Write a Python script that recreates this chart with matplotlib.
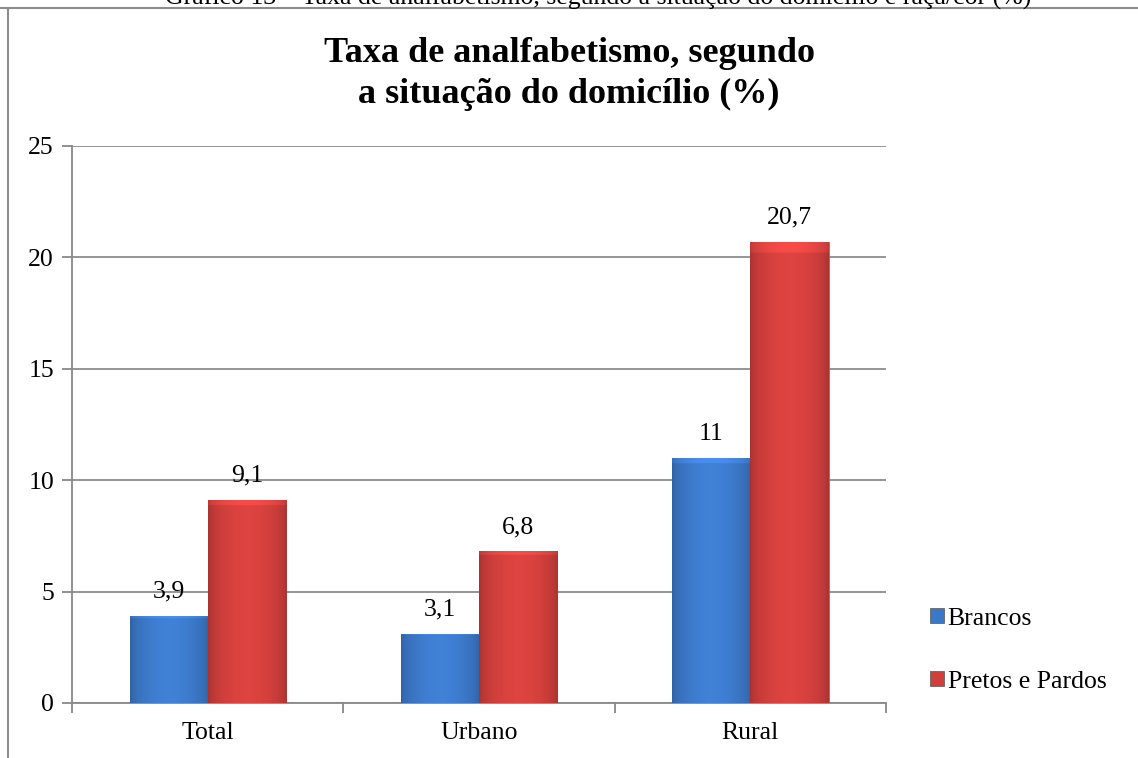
import numpy as np
import matplotlib.pyplot as plt
from matplotlib.patches import Patch
from matplotlib.lines import Line2D
from matplotlib.colors import to_rgb

# dados
categorias = ['Total', 'Urbano', 'Rural']
brancos = [3.9, 3.1, 11.0]
pretos_pardos = [9.1, 6.8, 20.7]
rotulos_brancos = ['3,9', '3,1', '11']
rotulos_pretos = ['9,1', '6,8', '20,7']
series = ['Brancos', 'Pretos e Pardos']
cores = ['#3C78C8', '#CF3F3C']

plt.rcParams['font.family'] = ['Liberation Serif', 'DejaVu Serif']

fig = plt.figure(figsize=(11.38, 7.58), dpi=100)
ax = fig.add_axes([0.0633, 0.0726, 0.7153, 0.7348])

x = np.arange(len(categorias))
w = 0.288


def barra_gradiente(ax, patch, cor):
    # efeito de relevo simples: mais claro no topo e no centro
    base = np.array(to_rgb(cor))
    nx, ny = 60, 200
    u = np.linspace(0, 1, nx)
    fx = 0.82 + 0.25 * np.sin(np.pi * u) ** 0.6
    fy = np.ones(ny)
    fy[-5:] = 1.12
    img = np.clip(base[None, None, :] * fx[None, :, None] * fy[:, None, None], 0, 1)
    x0, y0 = patch.get_x(), patch.get_y()
    im = ax.imshow(img, extent=[x0, x0 + patch.get_width(), y0, y0 + patch.get_height()],
                   origin='lower', aspect='auto', zorder=3, interpolation='bilinear')
    im.set_clip_path(patch)


for i, (vals, rot, cor) in enumerate([(brancos, rotulos_brancos, cores[0]),
                                      (pretos_pardos, rotulos_pretos, cores[1])]):
    pos = x - w / 2 + i * w
    bars = ax.bar(pos, vals, width=w, color=cor, edgecolor='#7a7a7a', linewidth=0.6, zorder=3)
    for b in bars:
        barra_gradiente(ax, b, cor)
    for p, v, r in zip(pos, vals, rot):
        ax.text(p, v + 0.6, r, ha='center', va='bottom', fontsize=18.5, zorder=4)

ax.set_xlim(-0.5, 2.5)
ax.set_ylim(0, 25)
ax.set_yticks([0, 5, 10, 15, 20, 25])
ax.set_xticks(x)
ax.set_xticklabels(categorias)
ax.set_xticks([-0.5, 0.5, 1.5, 2.5], minor=True)
ax.tick_params(axis='x', which='major', length=0, pad=14, labelsize=18.5)
ax.tick_params(axis='x', which='minor', length=7, color='#888888', width=1.3)
ax.tick_params(axis='y', length=7, color='#888888', width=1.3, labelsize=18.5, pad=6)
ax.grid(axis='y', color='#8c8c8c', linewidth=1.3, zorder=0)
ax.set_axisbelow(True)
for s in ['top', 'right']:
    ax.spines[s].set_visible(False)
for s in ['left', 'bottom']:
    ax.spines[s].set_color('#888888')
    ax.spines[s].set_linewidth(1.3)

fig.text(0.5, 0.951, 'Taxa de analfabetismo, segundo\na situação do domicílio (%)',
         ha='center', va='top', fontsize=26, fontweight='bold', linespacing=1.3)

handles = [Patch(facecolor=c, edgecolor='#555555', linewidth=0.5) for c in cores]
ax.legend(handles, series, loc='center left', bbox_to_anchor=(1.025, 0.095),
          frameon=False, fontsize=18.5, handlelength=0.55, handleheight=0.55,
          handletextpad=0.15, labelspacing=1.6)

# legenda da figura (cortada no topo) e moldura
fig.text(0.526, 0.994, 'Gráfico 13 – Taxa de analfabetismo, segundo a situação do domicílio e raça/cor (%)',
         ha='center', va='baseline', fontsize=18.5)
fig.add_artist(Line2D([0, 1], [0.989, 0.989], color='#8c8c8c', linewidth=1.5, transform=fig.transFigure))
fig.add_artist(Line2D([0.007, 0.007], [0, 0.989], color='#8c8c8c', linewidth=1.5, transform=fig.transFigure))

fig.savefig('out.png', dpi=100)
